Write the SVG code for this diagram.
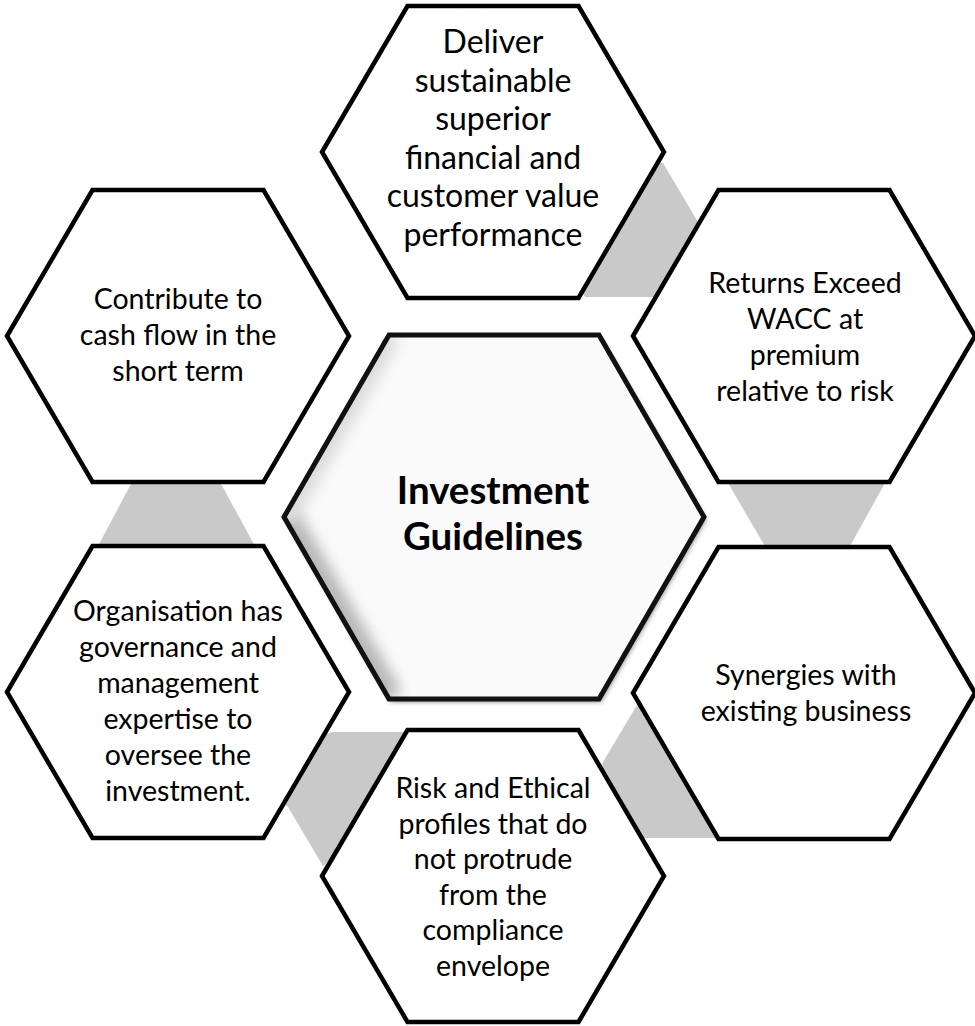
<svg xmlns="http://www.w3.org/2000/svg" width="975" height="1026" viewBox="0 0 975 1026">
  <style>
    .hex { fill: #ffffff; stroke: #000000; stroke-width: 4.5; stroke-linejoin: miter; }
    .link { fill: #c9c9c9; stroke: none; }
    .lbl { font-family: Lato, "Liberation Sans", Arial, sans-serif; font-size: 28.5px; fill: #000000; text-anchor: middle; }
    .big { font-size: 32px; }
    .title { font-family: Lato, "Liberation Sans", Arial, sans-serif; font-size: 38.5px; font-weight: bold; fill: #000000; text-anchor: middle; }
  </style>
  <defs>
    <filter id="soft" x="-20%" y="-20%" width="140%" height="140%">
      <feGaussianBlur stdDeviation="7"/>
    </filter>
    <filter id="drop" x="-10%" y="-10%" width="120%" height="120%">
      <feGaussianBlur in="SourceAlpha" stdDeviation="2.5"/>
      <feOffset dx="2" dy="3" result="off"/>
      <feComponentTransfer><feFuncA type="linear" slope="0.45"/></feComponentTransfer>
      <feMerge><feMergeNode/><feMergeNode in="SourceGraphic"/></feMerge>
    </filter>
    <clipPath id="centerClip">
      <polygon points="284,517 389,335 599,335 704,517 599,699 389,699"/>
    </clipPath>
  </defs>

  <!-- grey links sitting behind the ring of hexagons -->
  <g id="connectors">
    <polygon class="link" points="600,163 663,163 740,293 740,297 585,297 560,250"/>
    <polygon class="link" points="728,483 885,483 849,548 766,548"/>
    <polygon class="link" points="640,700 603,762 592,800 630,838 722,838 690,720"/>
    <polygon class="link" points="332,732 412,732 395,800 323,866 288,807 270,790 300,745"/>
    <polygon class="link" points="132,482 220,482 256,548 97,548"/>
  </g>

  <!-- centre hexagon with soft bevel -->
  <g id="node-center">
    <polygon points="284,517 389,335 599,335 704,517 599,699 389,699" fill="#fafafa" filter="url(#drop)"/>
    <g clip-path="url(#centerClip)">
      <path d="M284,517 L389,699" stroke="#b8b8b8" stroke-width="30" fill="none" filter="url(#soft)"/>
      <path d="M389,335 L284,517" stroke="#dadada" stroke-width="24" fill="none" filter="url(#soft)"/>
    </g>
    <polygon points="284,517 389,335 599,335 704,517 599,699 389,699" fill="none" stroke="#111111" stroke-width="5" stroke-linejoin="miter"/>
    <text class="title" x="493" y="504">Investment</text>
    <text class="title" x="493" y="550">Guidelines</text>
  </g>

  <g id="node-deliver">
    <polygon class="hex" points="322,152 407.5,6 578.5,6 664,152 578.5,298 407.5,298"/>
    <text class="lbl big" x="493" y="53">Deliver</text>
    <text class="lbl big" x="493" y="91.5">sustainable</text>
    <text class="lbl big" x="493" y="130">superior</text>
    <text class="lbl big" x="493" y="168.5">financial and</text>
    <text class="lbl big" x="493" y="207">customer value</text>
    <text class="lbl big" x="493" y="245.5">performance</text>
  </g>

  <g id="node-returns">
    <polygon class="hex" points="633,336 718.5,190 889.5,190 975,336 889.5,482 718.5,482"/>
    <text class="lbl" x="805" y="293">Returns Exceed</text>
    <text class="lbl" x="805" y="329">WACC at</text>
    <text class="lbl" x="805" y="365">premium</text>
    <text class="lbl" x="805" y="401">relative to risk</text>
  </g>

  <g id="node-synergies">
    <polygon class="hex" points="633,693 718.5,547 889.5,547 975,693 889.5,839 718.5,839"/>
    <text class="lbl" x="806" y="685">Synergies with</text>
    <text class="lbl" x="806" y="721">existing business</text>
  </g>

  <g id="node-risk">
    <polygon class="hex" points="322,876 407.5,730 578.5,730 664,876 578.5,1022 407.5,1022"/>
    <text class="lbl" x="493" y="798">Risk and Ethical</text>
    <text class="lbl" x="493" y="834">profiles that do</text>
    <text class="lbl" x="493" y="869">not protrude</text>
    <text class="lbl" x="493" y="905">from the</text>
    <text class="lbl" x="493" y="940">compliance</text>
    <text class="lbl" x="493" y="976">envelope</text>
  </g>

  <g id="node-organisation">
    <polygon class="hex" points="7,692 92.5,546 263.5,546 349,692 263.5,838 92.5,838"/>
    <text class="lbl" x="178" y="621">Organisation has</text>
    <text class="lbl" x="178" y="657">governance and</text>
    <text class="lbl" x="178" y="693">management</text>
    <text class="lbl" x="178" y="729">expertise to</text>
    <text class="lbl" x="178" y="765">oversee the</text>
    <text class="lbl" x="178" y="801">investment.</text>
  </g>

  <g id="node-contribute">
    <polygon class="hex" points="7,336 92.5,190 263.5,190 349,336 263.5,482 92.5,482"/>
    <text class="lbl" x="178" y="309">Contribute to</text>
    <text class="lbl" x="178" y="345">cash flow in the</text>
    <text class="lbl" x="178" y="381">short term</text>
  </g>
</svg>
